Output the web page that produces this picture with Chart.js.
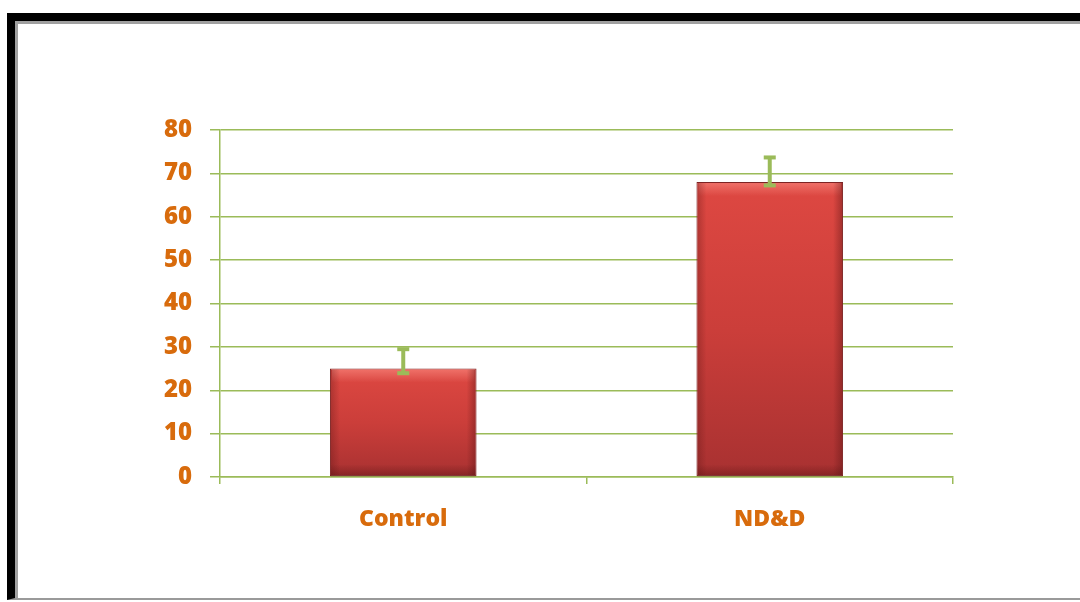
<!DOCTYPE html>
<html>
<head>
<meta charset="utf-8">
<script src="https://cdn.jsdelivr.net/npm/chart.js@4.4.1/dist/chart.umd.min.js"></script>
<style>
  html, body { margin: 0; padding: 0; background: #fff; }
  body { width: 1080px; height: 602px; position: relative; overflow: hidden; }
  #frame {
    position: absolute; left: 7px; top: 13px; width: 1200px; height: 577px;
    border-top: 8px solid #000; border-left: 8px solid #000;
    border-bottom: 2px solid #9a9a9a;
  }
  #inner {
    position: absolute; left: 0; top: 0; right: 0; bottom: 0;
    border-top: 3px solid #a0a0a0; border-left: 3px solid #a0a0a0;
  }
  #wrap { position: absolute; left: 0; top: 0; width: 1080px; height: 602px; }
</style>
</head>
<body>
<div id="frame"><div id="inner"></div></div>
<div id="wrap"><canvas id="myChart" width="1080" height="602"></canvas></div>
<script>
const categories = ["Control", "ND&D"];
const means = [25, 68];
const errLow = [23.7, 67];
const errHigh = [29.7, 73.9];
const yTicks = [0, 10, 20, 30, 40, 50, 60, 70, 80];

const GRID = "#9bbb59";
const ORANGE = "#d86b0c";

// draws the green error bars and a little bevel on each bar
const errorBars = {
    id: "errorBars",
    afterDatasetsDraw(chart) {
        const ctx = chart.ctx;
        const y = chart.scales.y;
        const meta = chart.getDatasetMeta(0);
        meta.data.forEach((bar, i) => {
            const left = bar.x - bar.width / 2;
            const right = bar.x + bar.width / 2;
            const top = bar.y;
            const bottom = bar.base;
            ctx.save();
            // bevel highlight on top edge
            let g = ctx.createLinearGradient(0, top, 0, top + 14);
            g.addColorStop(0, "rgba(255,150,140,0.55)");
            g.addColorStop(1, "rgba(255,150,140,0)");
            ctx.fillStyle = g;
            ctx.fillRect(left + 2, top + 1, right - left - 4, 14);
            // dark bottom edge
            g = ctx.createLinearGradient(0, bottom - 12, 0, bottom);
            g.addColorStop(0, "rgba(90,20,20,0)");
            g.addColorStop(1, "rgba(90,20,20,0.45)");
            ctx.fillStyle = g;
            ctx.fillRect(left + 1, bottom - 12, right - left - 2, 12);
            // side edges
            g = ctx.createLinearGradient(left, 0, left + 10, 0);
            g.addColorStop(0, "rgba(90,20,20,0.35)");
            g.addColorStop(1, "rgba(90,20,20,0)");
            ctx.fillStyle = g;
            ctx.fillRect(left + 1, top + 1, 10, bottom - top - 2);
            g = ctx.createLinearGradient(right - 10, 0, right, 0);
            g.addColorStop(0, "rgba(90,20,20,0)");
            g.addColorStop(1, "rgba(90,20,20,0.45)");
            ctx.fillStyle = g;
            ctx.fillRect(right - 11, top + 1, 10, bottom - top - 2);

            // error bar
            const yHi = y.getPixelForValue(errHigh[i]);
            const yLo = y.getPixelForValue(errLow[i]);
            ctx.strokeStyle = GRID;
            ctx.lineWidth = 4;
            ctx.beginPath();
            ctx.moveTo(bar.x, yHi);
            ctx.lineTo(bar.x, yLo);
            ctx.stroke();
            ctx.fillStyle = GRID;
            ctx.fillRect(bar.x - 6, yHi - 1, 12, 4);
            ctx.fillRect(bar.x - 6, yLo - 3, 12, 4);
            ctx.restore();
        });
    }
};

const ctx = document.getElementById("myChart").getContext("2d");

new Chart(ctx, {
    type: "bar",
    data: {
        labels: categories,
        datasets: [{
            data: means,
            backgroundColor: function(context) {
                const chart = context.chart;
                if (!chart.chartArea || context.parsed === undefined) return "#c93c38";
                const yScale = chart.scales.y;
                const top = yScale.getPixelForValue(context.parsed.y);
                const base = yScale.getPixelForValue(0);
                const g = chart.ctx.createLinearGradient(0, top, 0, base);
                g.addColorStop(0, "#de4842");
                g.addColorStop(0.5, "#cb3e3a");
                g.addColorStop(1, "#a83131");
                return g;
            },
            borderColor: "#7d2424",
            borderWidth: 1,
            borderSkipped: false,
            barPercentage: 0.4,
            categoryPercentage: 1
        }]
    },
    options: {
        responsive: false,
        animation: false,
        layout: { padding: { top: 130, right: 127, bottom: 0, left: 0 } },
        plugins: {
            legend: { display: false },
            tooltip: { enabled: false }
        },
        scales: {
            x: {
                offset: true,
                grid: {
                    offset: true,
                    drawOnChartArea: false,
                    drawTicks: true,
                    tickLength: 7,
                    color: GRID,
                    lineWidth: 1.5
                },
                border: { color: GRID, width: 1.5 },
                ticks: {
                    color: ORANGE,
                    padding: 22,
                    font: { family: "Open Sans", weight: "800", size: 23 }
                },
                afterFit(scale) { scale.height = 125; }
            },
            y: {
                min: 0,
                max: 80,
                afterBuildTicks(scale) { scale.ticks = yTicks.map(v => ({ value: v })); },
                grid: {
                    color: GRID,
                    lineWidth: 1.5,
                    drawTicks: true,
                    tickLength: 10
                },
                border: { color: GRID, width: 1.5 },
                ticks: {
                    color: ORANGE,
                    padding: 18,
                    font: { family: "Open Sans", weight: "800", size: 24 }
                },
                afterFit(scale) { scale.width = 220; }
            }
        }
    },
    plugins: [errorBars]
});
</script>
</body>
</html>
